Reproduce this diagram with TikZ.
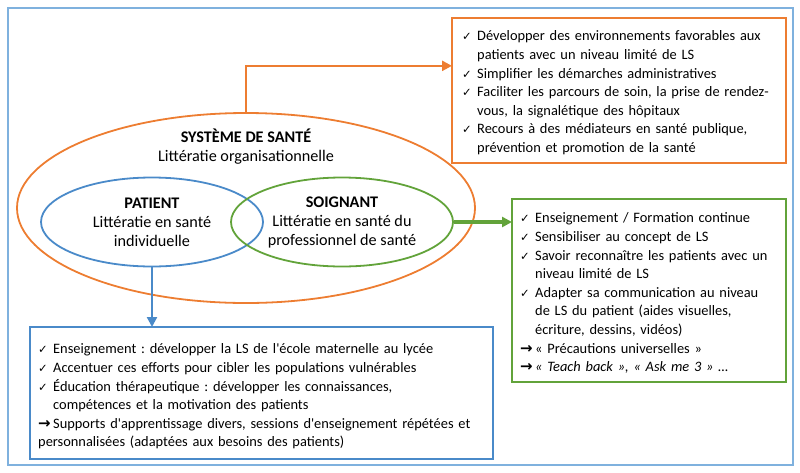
\documentclass[tikz,border=0pt]{standalone}
\usepackage{fontspec}
\setmainfont{Carlito}[Ligatures=TeXOff]
\newfontfamily\symfont{DejaVu Sans}
\usetikzlibrary{positioning,arrows.meta,calc,shapes.geometric}

\definecolor{sysorange}{HTML}{ED7D31}
\definecolor{patblue}{HTML}{4A8AC9}
\definecolor{soigreen}{HTML}{62A33A}
\definecolor{frameblue}{HTML}{7FB1DE}

\frenchspacing
% check mark and arrow bullets
\newcommand{\chk}{\makebox[15pt][l]{\symfont\fontsize{11.5}{11.5}\selectfont ✓}}
\newcommand{\arr}{\makebox[15pt][l]{\symfont\bfseries\fontsize{15}{15}\selectfont →}}
\newcommand{\itm}{\par\noindent\hangindent=15pt\hangafter=1}

\tikzset{
  boxline/.style={line width=2.6pt},
  listtext/.style={anchor=north west, inner sep=0pt, align=left,
    font=\fontsize{14.4}{18.6}\selectfont},
  bubble/.style={ellipse, line width=1.8pt, inner sep=0pt, align=center,
    font=\fontsize{16.2}{19}\selectfont},
  tip/.style={-{Triangle[length=10pt,width=10pt]}}
}

\begin{document}
\begin{tikzpicture}[x=1pt, y=-1pt]
  \useasboundingbox (0,0) rectangle (800,472);
  \draw[frameblue, line width=1.5pt] (8,8) rectangle (793,465);

  % ellipses
  \node[bubble, draw=sysorange, minimum width=458pt, minimum height=190pt] (sys) at (246,208) {};
  \node[bubble, draw=patblue, minimum width=222pt, minimum height=89pt] (pat) at (152,222)
    {\textbf{PATIENT}\\Littératie en santé\\individuelle};
  \node[bubble, draw=soigreen, minimum width=222pt, minimum height=89pt] (soi) at (342,222)
    {\textbf{SOIGNANT}\\Littératie en santé du\\professionnel de santé};
  \node[align=center, font=\fontsize{16.2}{19}\selectfont] (systitle) at (246,147)
    {\textbf{SYSTÈME DE SANTÉ}\\Littératie organisationnelle};

  % boxes
  \draw[sysorange, boxline] (452,18) rectangle (786,163);
  \coordinate (orgNW) at (452,18);
  \coordinate (orgSW) at (452,163);
  \draw[soigreen, boxline] (512,199) rectangle (786,382);
  \coordinate (grnW) at (512,222);
  \draw[patblue, boxline] (30,327) rectangle (493,459);
  \coordinate (bluN) at (152,327);

  % lists
  \node[listtext, text width=320pt] (orglist) at (462,22)
    {\itm\chk Développer des environnements favorables aux\newline patients avec un niveau limité de LS
     \itm\chk Simplifier les démarches administratives
     \itm\chk Faciliter les parcours de soin, la prise de rendez-\newline vous, la signalétique des hôpitaux
     \itm\chk Recours à des médiateurs en santé publique,\newline prévention et promotion de la santé\par};
  \node[listtext, text width=270pt] (grnlist) at (520,204)
    {\itm\chk Enseignement / Formation continue
     \itm\chk Sensibiliser au concept de LS
     \itm\chk Savoir reconnaître les patients avec un\newline niveau limité de LS
     \itm\chk Adapter sa communication au niveau\newline de LS du patient (aides visuelles,\newline écriture, dessins, vidéos)
     \itm\arr « Précautions universelles »
     \itm\arr \textit{« Teach back », « Ask me 3 » …}\par};
  \node[listtext, text width=460pt] (blulist) at (38,335)
    {\itm\chk Enseignement : développer la LS de l'école maternelle au lycée
     \itm\chk Accentuer ces efforts pour cibler les populations vulnérables
     \itm\chk Éducation thérapeutique : développer les connaissances,\newline compétences et la motivation des patients
     \par\noindent\arr Supports d'apprentissage divers, sessions d'enseignement répétées et\newline personnalisées (adaptées aux besoins des patients)\par};

  % connectors
  \draw[sysorange, line width=2.4pt, tip] (sys.north) |- ($(orgNW)!0.33!(orgSW)$);
  \draw[soigreen, line width=3.2pt, tip] (soi.east) -- (grnW);
  \draw[patblue, line width=2.2pt, tip] (pat.south) -- (bluN);
\end{tikzpicture}
\end{document}
